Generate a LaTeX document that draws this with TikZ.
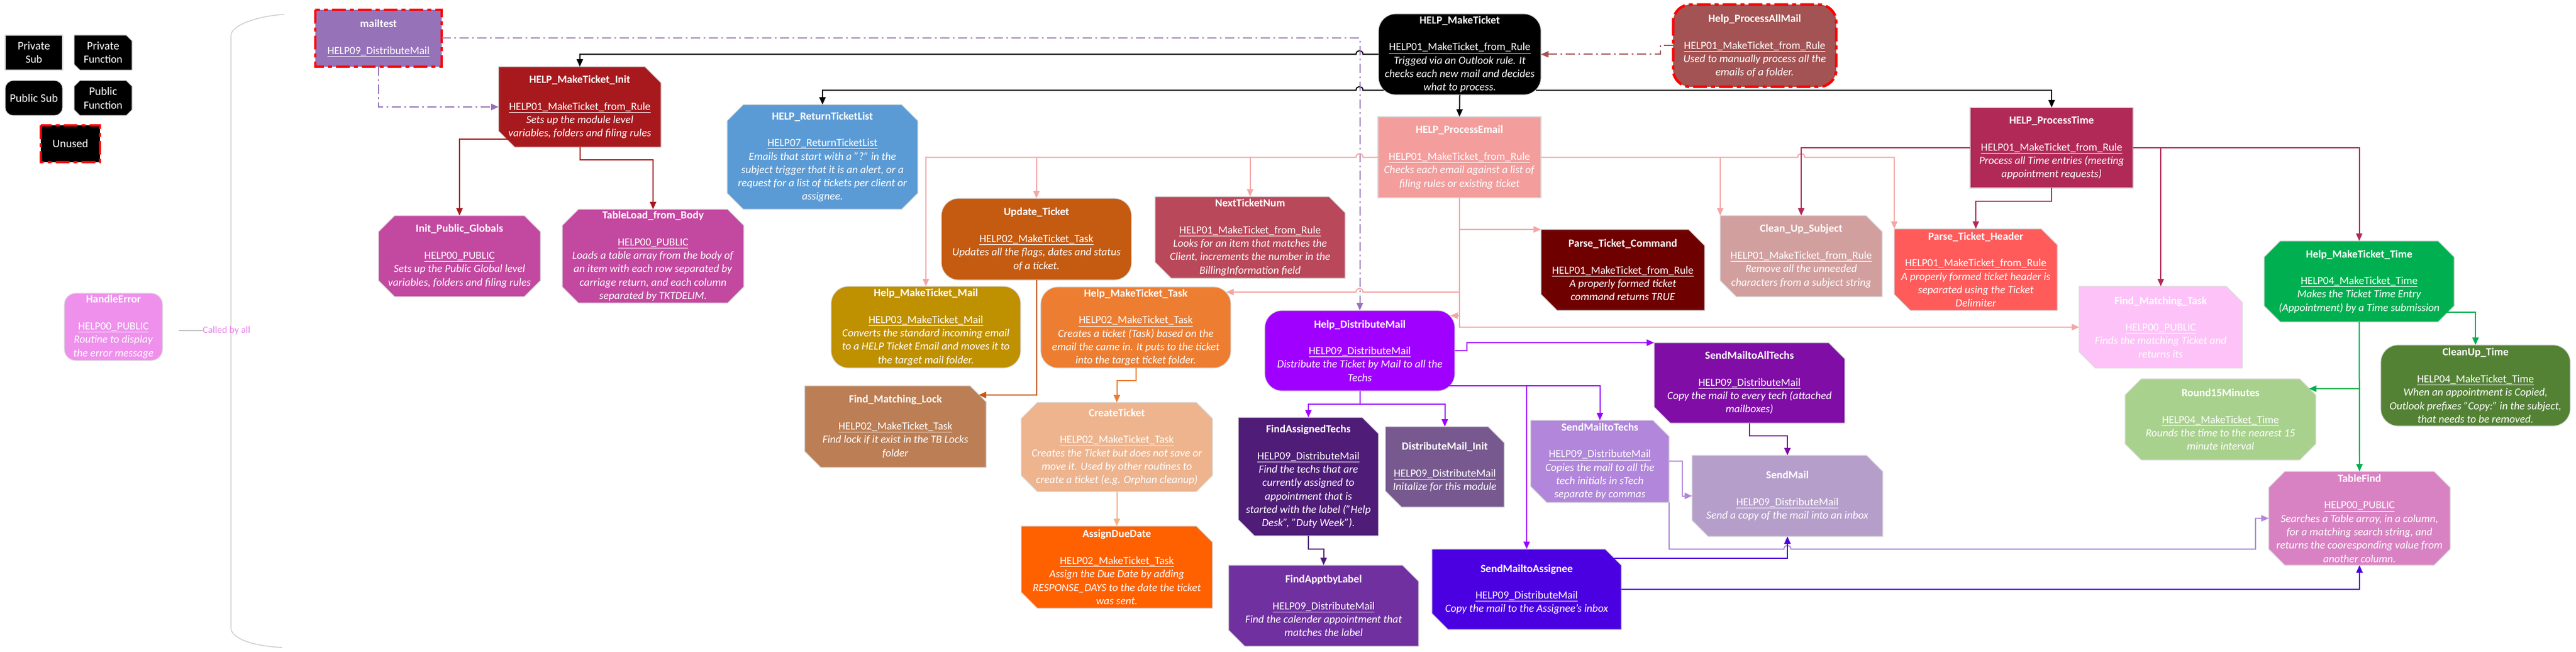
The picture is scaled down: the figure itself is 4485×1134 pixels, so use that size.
\documentclass[tikz,border=0pt]{standalone}
\usepackage{fontspec}
\setmainfont{Carlito}
\usetikzlibrary{arrows.meta,calc}
\definecolor{cMailtest}{RGB}{150,115,185}
\definecolor{cMkInit}{RGB}{168,25,30}
\definecolor{cInitPG}{RGB}{195,72,160}
\definecolor{cReturn}{RGB}{91,155,213}
\definecolor{cAllMail}{RGB}{163,83,83}
\definecolor{cProcEmail}{RGB}{243,157,156}
\definecolor{cPE}{RGB}{244,166,166}
\definecolor{cProcTime}{RGB}{177,42,87}
\definecolor{cUpdate}{RGB}{197,90,17}
\definecolor{cNext}{RGB}{185,72,90}
\definecolor{cParseCmd}{RGB}{111,0,0}
\definecolor{cCleanSub}{RGB}{210,159,159}
\definecolor{cParseHdr}{RGB}{255,91,91}
\definecolor{cMkTime}{RGB}{0,176,80}
\definecolor{cMkMail}{RGB}{191,144,0}
\definecolor{cMkTask}{RGB}{237,125,49}
\definecolor{cLock}{RGB}{188,126,84}
\definecolor{cCreate}{RGB}{237,180,142}
\definecolor{cCreateL}{RGB}{244,177,131}
\definecolor{cDue}{RGB}{255,96,0}
\definecolor{cDist}{RGB}{160,0,255}
\definecolor{cFindTechs}{RGB}{79,28,120}
\definecolor{cDistInit}{RGB}{119,89,143}
\definecolor{cSendTechs}{RGB}{177,134,219}
\definecolor{cFindAppt}{RGB}{112,48,160}
\definecolor{cSendAssignee}{RGB}{75,0,225}
\definecolor{cSendAll}{RGB}{127,13,166}
\definecolor{cSendMail}{RGB}{182,158,203}
\definecolor{cFindTask}{RGB}{253,194,248}
\definecolor{cRound}{RGB}{169,209,142}
\definecolor{cCleanTime}{RGB}{84,130,53}
\definecolor{cTableFind}{RGB}{217,130,195}
\definecolor{cHandleErr}{RGB}{238,144,236}
\definecolor{cCalled}{RGB}{232,128,232}
\tikzset{
  box/.style={draw=black!15, line width=1.2pt},
  anch/.style={inner sep=0pt, outer sep=0pt, draw=none},
  txt/.style={inner sep=0pt, align=center, text=white, font=\fontsize{19}{23.3}\selectfont},
  unused/.style={draw=red, line width=4.5pt, dash pattern=on 24pt off 7pt on 7pt off 7pt},
  con/.style={line width=2pt, -{Triangle[length=13pt,width=11pt]}},
  dd/.style={dash pattern=on 16pt off 6pt on 3pt off 6pt},
}
\def\ch{28}
\def\rr{30}
\newcommand\hd[2]{\textbf{#1}\\\mbox{}\\\underline{#2}}
\newcommand\ds[1]{\textit{#1}}
% rectangle (private sub)
\newcommand\PSub[7]{%
  \path[box,#2] (#3,#4) rectangle (#5,#6);
  \node[anch,minimum width={#5-#3},minimum height={#6-#4}] (#1) at ({(#3+#5)/2},{(#4+#6)/2}) {};
  \node[txt] at (#1.center) {#7};}
% rounded rectangle (public sub)
\newcommand\USub[7]{%
  \path[box,rounded corners=\rr pt,#2] (#3,#4) rectangle (#5,#6);
  \node[anch,minimum width={#5-#3},minimum height={#6-#4}] (#1) at ({(#3+#5)/2},{(#4+#6)/2}) {};
  \node[txt] at (#1.center) {#7};}
% snipped diagonal (private function)
\newcommand\PFun[7]{%
  \path[box,#2] (#3,#4) -- ({#5-\ch},#4) -- (#5,{#4+\ch}) -- (#5,#6) -- ({#3+\ch},#6) -- (#3,{#6-\ch}) -- cycle;
  \node[anch,minimum width={#5-#3},minimum height={#6-#4}] (#1) at ({(#3+#5)/2},{(#4+#6)/2}) {};
  \node[txt] at (#1.center) {#7};}
% octagon (public function)
\newcommand\UFun[7]{%
  \path[box,#2] ({#3+\ch},#4) -- ({#5-\ch},#4) -- (#5,{#4+\ch}) -- (#5,{#6-\ch}) -- ({#5-\ch},#6) -- ({#3+\ch},#6) -- (#3,{#6-\ch}) -- (#3,{#4+\ch}) -- cycle;
  \node[anch,minimum width={#5-#3},minimum height={#6-#4}] (#1) at ({(#3+#5)/2},{(#4+#6)/2}) {};
  \node[txt] at (#1.center) {#7};}
\begin{document}
\begin{tikzpicture}[x=1pt,y=-1pt]
\useasboundingbox (0,0) rectangle (4485,1134);
\fill[white] (0,0) rectangle (4485,1134);

% ---------- legend ----------
{\def\ch{10}\def\rr{14}
\PSub{lgA}{fill=black}{9}{61}{109}{122}{\fontsize{20}{23}\selectfont Private\\Sub}
\PFun{lgB}{fill=black}{129}{61}{230}{122}{\fontsize{20}{23}\selectfont Private\\Function}
\USub{lgC}{fill=black}{9}{140}{109}{201}{\fontsize{20}{23}\selectfont Public Sub}
\UFun{lgD}{fill=black}{129}{140}{230}{201}{\fontsize{20}{23}\selectfont Public\\Function}
\PSub{lgE}{fill=black,unused}{71}{218}{174}{282}{\fontsize{20}{23}\selectfont Unused}
}

% bracket
\draw[black!20, line width=1.5pt] (495,25) .. controls (445,28) and (402,45) .. (402,62) -- (402,1092) .. controls (402,1110) and (440,1124) .. (491,1126);

% HandleError
{\def\rr{20}
\USub{he}{fill=cHandleErr}{112}{510}{283}{627}{\hd{HandleError}{HELP00\_PUBLIC}\\\ds{Routine to display}\\\ds{the error message}}
}
\coordinate (cbs) at (311,575);
\node[anchor=west, inner sep=0pt, text=cCalled, font=\fontsize{17}{20}\selectfont] (cba) at (353,575) {Called by all};
\draw[black!25, line width=1.5pt] (cbs) -- (cba.west);

% ---------- nodes ----------
\PSub{mt}{fill=cMailtest,unused}{549}{17}{769}{116}{\hd{mailtest}{HELP09\_DistributeMail}}
\PFun{mkinit}{fill=cMkInit}{868}{116}{1151}{256}{\hd{HELP\_MakeTicket\_Init}{HELP01\_MakeTicket\_from\_Rule}\\\ds{Sets up the module level}\\\ds{variables, folders and filing rules}}
\UFun{ipg}{fill=cInitPG}{659}{375}{941}{516}{\hd{Init\_Public\_Globals}{HELP00\_PUBLIC}\\\ds{Sets up the Public Global level}\\\ds{variables, folders and filing rules}}
\UFun{tlb}{fill=cInitPG}{979}{364}{1295}{527}{\hd{TableLoad\_from\_Body}{HELP00\_PUBLIC}\\\ds{Loads a table array from the body of}\\\ds{an item with each row separated by}\\\ds{carriage return, and each column}\\\ds{separated by TKTDELIM.}}
\UFun{ret}{fill=cReturn}{1266}{182}{1598}{364}{\hd{HELP\_ReturnTicketList}{HELP07\_ReturnTicketList}\\\ds{Emails that start with a "?" in the}\\\ds{subject trigger that it is an alert, or a}\\\ds{request for a list of tickets per client or}\\\ds{assignee.}}
\USub{mk}{fill=black}{2400}{24}{2683}{165}{\hd{HELP\_MakeTicket}{HELP01\_MakeTicket\_from\_Rule}\\\ds{Trigged via an Outlook rule. It}\\\ds{checks each new mail and decides}\\\ds{what to process.}}
\USub{pam}{fill=cAllMail,unused}{2913}{8}{3197}{151}{\hd{Help\_ProcessAllMail}{HELP01\_MakeTicket\_from\_Rule}\\\ds{Used to manually process all the}\\\ds{emails of a folder.}}
\PSub{pe}{fill=cProcEmail}{2399}{203}{2683}{344}{\hd{HELP\_ProcessEmail}{HELP01\_MakeTicket\_from\_Rule}\\\ds{Checks each email against a list of}\\\ds{filing rules or existing ticket}}
\PSub{pt}{fill=cProcTime}{3430}{187}{3714}{327}{\hd{HELP\_ProcessTime}{HELP01\_MakeTicket\_from\_Rule}\\\ds{Process all Time entries (meeting}\\\ds{appointment requests)}}
\USub{upd}{fill=cUpdate}{1639}{345}{1970}{487}{\hd{Update\_Ticket}{HELP02\_MakeTicket\_Task}\\\ds{Updates all the flags, dates and status}\\\ds{of a ticket.}}
\PFun{nt}{fill=cNext}{2011}{342}{2342}{484}{\hd{NextTicketNum}{HELP01\_MakeTicket\_from\_Rule}\\\ds{Looks for an item that matches the}\\\ds{Client, increments the number in the}\\\ds{BillingInformation field}}
\PFun{ptc}{fill=cParseCmd}{2683}{399}{2968}{540}{\hd{Parse\_Ticket\_Command}{HELP01\_MakeTicket\_from\_Rule}\\\ds{A properly formed ticket}\\\ds{command returns TRUE}}
\PFun{cus}{fill=cCleanSub}{2995}{375}{3277}{516}{\hd{Clean\_Up\_Subject}{HELP01\_MakeTicket\_from\_Rule}\\\ds{Remove all the unneeded}\\\ds{characters from a subject string}}
\PFun{pth}{fill=cParseHdr}{3298}{398}{3582}{540}{\hd{Parse\_Ticket\_Header}{HELP01\_MakeTicket\_from\_Rule}\\\ds{A properly formed ticket header is}\\\ds{separated using the Ticket}\\\ds{Delimiter}}
\UFun{mtime}{fill=cMkTime}{3942}{419}{4273}{560}{\hd{Help\_MakeTicket\_Time}{HELP04\_MakeTicket\_Time}\\\ds{Makes the Ticket Time Entry}\\\ds{(Appointment) by a Time submission}}
\USub{mkmail}{fill=cMkMail}{1447}{498}{1777}{640}{\hd{Help\_MakeTicket\_Mail}{HELP03\_MakeTicket\_Mail}\\\ds{Converts the standard incoming email}\\\ds{to a HELP Ticket Email and moves it to}\\\ds{the target mail folder.}}
\USub{mktask}{fill=cMkTask}{1812}{499}{2143}{640}{\hd{Help\_MakeTicket\_Task}{HELP02\_MakeTicket\_Task}\\\ds{Creates a ticket (Task) based on the}\\\ds{email the came in. It puts to the ticket}\\\ds{into the target ticket folder.}}
\PFun{fml}{fill=cLock}{1401}{671}{1717}{813}{\hd{Find\_Matching\_Lock}{HELP02\_MakeTicket\_Task}\\\ds{Find lock if it exist in the TB Locks}\\\ds{folder}}
\UFun{ct}{fill=cCreate}{1778}{700}{2111}{855}{\hd{CreateTicket}{HELP02\_MakeTicket\_Task}\\\ds{Creates the Ticket but does not save or}\\\ds{move it. Used by other routines to}\\\ds{create a ticket (e.g. Orphan cleanup)}}
\PFun{due}{fill=cDue}{1778}{915}{2111}{1058}{\hd{AssignDueDate}{HELP02\_MakeTicket\_Task}\\\ds{Assign the Due Date by adding}\\\ds{RESPONSE\_DAYS to the date the ticket}\\\ds{was sent.}}
\USub{dm}{fill=cDist}{2202}{540}{2533}{680}{\hd{Help\_DistributeMail}{HELP09\_DistributeMail}\\\ds{Distribute the Ticket by Mail to all the}\\\ds{Techs}}
\PFun{fat}{fill=cFindTechs}{2156}{726}{2400}{932}{\hd{FindAssignedTechs}{HELP09\_DistributeMail}\\\ds{Find the techs that are}\\\ds{currently assigned to}\\\ds{appointment that is}\\\ds{started with the label ("Help}\\\ds{Desk", "Duty Week").}}
\PFun{dmi}{fill=cDistInit}{2412}{742}{2619}{882}{\hd{DistributeMail\_Init}{HELP09\_DistributeMail}\\\ds{Initalize for this module}}
\PFun{smt}{fill=cSendTechs}{2665}{731}{2906}{874}{\hd{SendMailtoTechs}{HELP09\_DistributeMail}\\\ds{Copies the mail to all the}\\\ds{tech initials in sTech}\\\ds{separate by commas}}
\PFun{fal}{fill=cFindAppt}{2139}{983}{2470}{1124}{\hd{FindApptbyLabel}{HELP09\_DistributeMail}\\\ds{Find the calender appointment that}\\\ds{matches the label}}
\PFun{sma}{fill=cSendAssignee}{2493}{955}{2823}{1095}{\hd{SendMailtoAssignee}{HELP09\_DistributeMail}\\\ds{Copy the mail to the Assignee's inbox}}
\PFun{sat}{fill=cSendAll}{2880}{596}{3212}{736}{\hd{SendMailtoAllTechs}{HELP09\_DistributeMail}\\\ds{Copy the mail to every tech (attached}\\\ds{mailboxes)}}
\PFun{sm}{fill=cSendMail}{2946}{792}{3278}{933}{\hd{SendMail}{HELP09\_DistributeMail}\\\ds{Send a copy of the mail into an inbox}}
\PFun{fmt}{fill=cFindTask}{3620}{498}{3904}{640}{\hd{Find\_Matching\_Task}{HELP00\_PUBLIC}\\\ds{Finds the matching Ticket and}\\\ds{returns its}}
\UFun{r15}{fill=cRound}{3700}{659}{4032}{800}{\hd{Round15Minutes}{HELP04\_MakeTicket\_Time}\\\ds{Rounds the time to the nearest 15}\\\ds{minute interval}}
\USub{clt}{fill=cCleanTime}{4145}{600}{4475}{741}{\hd{CleanUp\_Time}{HELP04\_MakeTicket\_Time}\\\ds{When an appointment is Copied,}\\\ds{Outlook prefixes "Copy:" in the subject,}\\\ds{that needs to be removed.}}
\UFun{tf}{fill=cTableFind}{3950}{820}{4266}{983}{\hd{TableFind}{HELP00\_PUBLIC}\\\ds{Searches a Table array, in a column,}\\\ds{for a matching search string, and}\\\ds{returns the cooresponding value from}\\\ds{another column.}}

% ---------- connectors ----------
% HELP_MakeTicket
\draw[con,black] (mk.west) -- (2373,94.5) .. controls (2373,86) and (2361,86) .. (2361,94.5) -| (mkinit.north);
\draw[con,black] ($(mk.south west)+(9,-8)$) -- (2373,157) .. controls (2373,148.5) and (2361,148.5) .. (2361,157) -| (ret.north);
\draw[con,black] (mk.south) -- (pe.north);
\draw[con,black] ($(mk.south east)+(-9,-8)$) -| (pt.north);
% ProcessAllMail
\draw[con,cAllMail,dd] (pam.west) -- ++(-22,0) |- (mk.east);
% mailtest
\draw[con,cMailtest,dd] (mt.east) -| (dm.north);
\draw[con,cMailtest,dd] (mt.south) |- (mkinit.west);
% MakeTicket_Init
\draw[con,cMkInit] ($(mkinit.south west)+(16,-14)$) -| (ipg.north);
\draw[con,cMkInit] (mkinit.south) -- ++(0,22) -| (tlb.north);
% ProcessEmail
\draw[con,cPE] (pe.west) -- (2373,273.5) .. controls (2373,265) and (2361,265) .. (2361,273.5) -| (mkmail.north);
\draw[con,cPE] (upd.north |- pe.west) -- (upd.north);
\draw[con,cPE] (nt.north |- pe.west) -- (nt.north);
\draw[con,cPE] (pe.east) -- (3130,273.5) .. controls (3130,265) and (3142,265) .. (3142,273.5) -| (pth.north west);
\draw[con,cPE] (cus.north west |- pe.east) -- (cus.north west);
\draw[con,cPE] (pe.south) |- (fmt.west);
\draw[con,cPE] (pe.south |- ptc.north west) -- (ptc.north west);
\coordinate (jmt) at ($(pe.south |- mktask.north east)+(0,9)$);
\draw[con,cPE] (jmt) -- (2373,508) .. controls (2373,499.5) and (2361,499.5) .. (2361,508) -- ($(mktask.north east)+(-8,9)$);
\draw[con,cPE] ($(pe.south |- dm.north east)+(0,9)$) -- ($(dm.north east)+(-8,9)$);
% Update_Ticket
\draw[con,cUpdate] (upd.south) |- ($(fml.north east)+(-13,16)$);
% MakeTicket_Task / CreateTicket
\draw[con,cMkTask] (mktask.south) -- ++(0,22) -| (ct.north);
\draw[con,cCreateL] (ct.south) -- (due.north);
% ProcessTime
\draw[con,cProcTime] (pt.west) -| (cus.north);
\draw[con,cProcTime] (pt.south) -- ++(0,23) -| (pth.north);
\draw[con,cProcTime] (pt.east) -| (mtime.north);
\draw[con,cProcTime] (fmt.north |- pt.east) -- (fmt.north);
% MakeTicket_Time
\draw[con,cMkTime] ($(mtime.south east)+(-16,-17)$) -| (clt.north);
\draw[con,cMkTime] (mtime.south) -- (tf.north);
\coordinate (r15t) at ($(r15.north east)+(-12,17)$);
\draw[con,cMkTime] (mtime.south |- r15t) -- (r15t);
% DistributeMail
\draw[con,cDist] (dm.east) -- ++(21,0) |- (sat.north west);
\draw[con,cDist] ($(dm.south east)+(-10,-9)$) -| (smt.north);
\draw[con,cDist] ($(sma.north |- dm.south east)+(0,-9)$) -- (sma.north);
\draw[con,cDist] (dm.south) -- ++(0,23) -| (fat.north);
\draw[con,cDist] (dm.south) -- ++(0,23) -| (dmi.north);
% FindAssignedTechs
\draw[con,cFindTechs] (fat.south) -- ++(0,23) -| (fal.north);
% SendMailtoAllTechs
\draw[con,cSendAll] (sat.south) -- ++(0,22) -| (sm.north);
% SendMailtoTechs
\draw[con,cSendTechs] ($(smt.north east)+(0,71)$) -- ++(23,0) |- (sm.west);
\draw[con,cSendTechs] (smt.south east) -- ++(0,81) -- (3106,955) .. controls (3106,946.5) and (3118,946.5) .. (3118,955) -| ($(tf.west)+(-23,0)$) -- (tf.west);
% SendMailtoAssignee
\draw[con,cSendAssignee] ($(sma.north east)+(-13,16)$) -| (sm.south);
\draw[con,cSendAssignee] ($(sma.north east)+(0,70)$) -| (tf.south);
\end{tikzpicture}
\end{document}
